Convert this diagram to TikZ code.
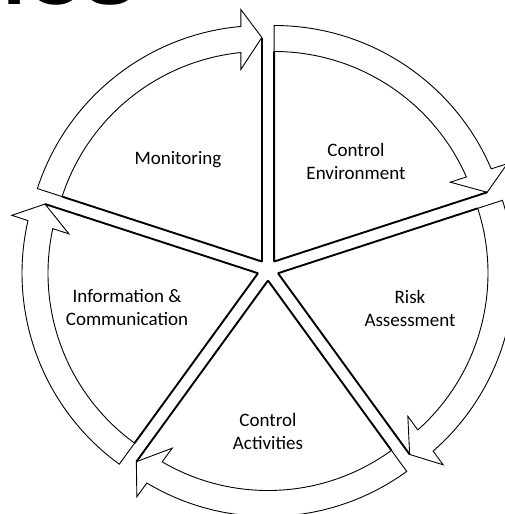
\documentclass[tikz,border=0pt]{standalone}
\usepackage{fontspec}
\setmainfont{Carlito}
\newfontfamily\headfont{Liberation Sans}
\tikzset{
  band/.style={draw=black, line width=0.9pt, line join=miter},
  spoke/.style={draw=black, line width=1.9pt},
  lbl/.style={font=\fontsize{19}{23}\selectfont, align=center, inner sep=0pt},
  head/.style={font=\headfont\bfseries\fontsize{80}{90}\selectfont, inner sep=0pt, anchor=base east},
}
% one piece of the cycle: #1 name, #2 angle of its clockwise edge
% (band radii 210/236, head 21 wide, so the arcs stop at 5.74 and 5.11 deg)
\newcommand{\CycleSector}[2]{%
  \begin{scope}[shift={(#2+36:10.5)}, rotate=#2]
    \coordinate (#1apex) at (0,0);
    \coordinate (#1tip) at (224,0);
    \coordinate (#1root) at (72:210);
    \draw[band] (#1root) -- (72:236)
      arc[start angle=72, end angle=5.11, radius=236]
      -- (252,21) -- (#1tip) -- (192,21) -- (208.95,21)
      arc[start angle=5.74, end angle=72, radius=210] -- cycle;
    \draw[spoke] (#1apex) -- (#1root);
    \draw[spoke] (#1apex) -- (#1tip);
  \end{scope}
}

\begin{document}
\begin{tikzpicture}[x=1pt, y=1pt]
  \useasboundingbox (-268,-244) rectangle (237,270);
  \clip (-268,-244) rectangle (237,270);
  \node[head] (title) at (-131,265) {ICS};

  \foreach \nm/\ang in {env/18, risk/-54, act/-126, info/-198, mon/90} {
    \CycleSector{\nm}{\ang}
  }

  \node[lbl] (envLbl) at (88,109) {Control\\Environment};
  \node[lbl] (riskLbl) at (142,-38) {Risk\\Assessment};
  \node[lbl] (actLbl) at (0,-161) {Control\\Activities};
  \node[lbl] (infoLbl) at (-141,-38) {Information \&\\Communication};
  \node[lbl] (monLbl) at (-90,110) {Monitoring};
\end{tikzpicture}
\end{document}
